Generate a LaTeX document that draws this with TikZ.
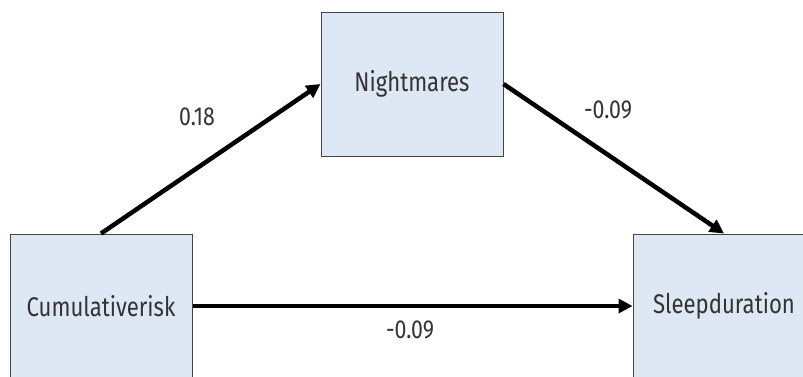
\documentclass[tikz,border=0pt]{standalone}
\usepackage{fontspec}
\setmainfont{Fira Sans}[FakeStretch=0.82]
\usetikzlibrary{arrows.meta}
\definecolor{boxfill}{HTML}{DEE8F5}
\definecolor{boxline}{HTML}{454545}
\definecolor{txt}{HTML}{333333}
\begin{document}
\begin{tikzpicture}[x=1pt,y=-1pt,
  varbox/.style={draw=boxline,line width=1pt,fill=boxfill,minimum width=182pt,minimum height=144pt,inner sep=0pt,text=txt,font=\fontsize{27}{30}\selectfont},
  path/.style={line width=4.5pt,-{Triangle[length=14pt,width=14pt]}},
  lbl/.style={text=txt,font=\fontsize{26}{30}\selectfont}]
\useasboundingbox (0,0) rectangle (803,376);
\node[varbox] (cr) at (101,306) {Cumulativerisk};
\node[varbox] (nm) at (412,84) {Nightmares};
\node[varbox] (sd) at (724,306) {Sleepduration};
\draw[path] (cr.north) -- (nm.west);
\draw[path] (nm.east) -- (sd.north);
\draw[path] (cr.east) -- (sd.west);
\node[lbl] (l1) at (197,117) {0.18};
\node[lbl] (l2) at (608,110) {-0.09};
\node[lbl] (l3) at (410,330) {-0.09};
\end{tikzpicture}
\end{document}
